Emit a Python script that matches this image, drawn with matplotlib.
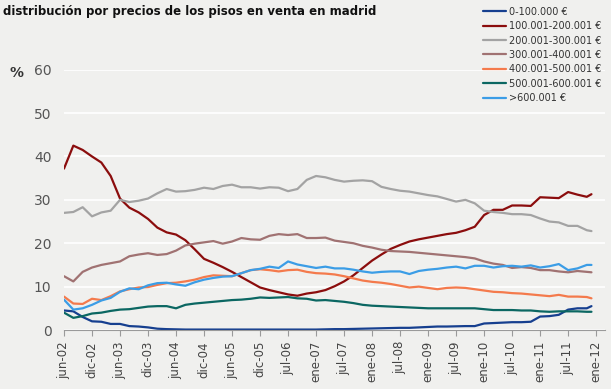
import matplotlib
matplotlib.use("Agg")
import matplotlib.pyplot as plt

# month offsets from jun-02 (every 2 months + last point)
months = list(range(0, 114, 2)) + [113]

tick_pos = list(range(0, 115, 6))
tick_labels = ["jun-02", "dic-02", "jun-03", "dic-03", "jun-04", "dic-04",
               "jun-05", "dic-05", "jul-06", "ene-07", "jul-07", "ene-08",
               "jul-08", "ene-09", "jul-09", "ene-10", "jul-10", "ene-11",
               "jul-11", "ene-12"]

s_0_100 = [4.5, 4.3, 3.0, 2.0, 1.9, 1.4, 1.4, 0.9, 0.8, 0.6, 0.3, 0.2, 0.15,
           0.1, 0.1, 0.1, 0.1, 0.1, 0.1, 0.1, 0.1, 0.1, 0.1, 0.1, 0.1, 0.1,
           0.1, 0.1, 0.15, 0.2, 0.2, 0.25, 0.3, 0.35, 0.4, 0.45, 0.5, 0.5,
           0.6, 0.7, 0.8, 0.8, 0.85, 0.9, 0.9, 1.5, 1.6, 1.7, 1.8, 1.8, 1.9,
           3.1, 3.2, 3.5, 4.7, 5.0, 5.0, 5.5]
s_100_200 = [37.2, 42.5, 41.5, 40.0, 38.6, 35.5, 30.3, 28.2, 27.1, 25.6, 23.6,
             22.5, 22.0, 20.7, 18.6, 16.4, 15.5, 14.5, 13.4, 12.2, 11.0, 9.8,
             9.2, 8.7, 8.2, 7.9, 8.4, 8.7, 9.2, 10.1, 11.2, 12.6, 14.3, 16.0,
             17.4, 18.7, 19.6, 20.4, 20.9, 21.3, 21.7, 22.1, 22.4, 23.0, 23.8,
             26.5, 27.7, 27.7, 28.7, 28.7, 28.6, 30.6, 30.5, 30.4, 31.8, 31.2,
             30.7, 31.3]
s_200_300 = [27.0, 27.2, 28.3, 26.2, 27.1, 27.5, 30.0, 29.5, 29.8, 30.3, 31.5,
             32.5, 31.9, 32.0, 32.3, 32.8, 32.5, 33.2, 33.5, 32.9, 32.9, 32.6,
             32.9, 32.8, 32.0, 32.5, 34.6, 35.5, 35.2, 34.6, 34.2, 34.4, 34.5,
             34.3, 33.0, 32.5, 32.1, 31.9, 31.5, 31.1, 30.8, 30.2, 29.6, 30.0,
             29.2, 27.5, 27.2, 27.0, 26.7, 26.7, 26.5, 25.7, 25.0, 24.8, 24.0,
             24.0, 23.0, 22.8]
s_300_400 = [12.4, 11.2, 13.4, 14.4, 15.0, 15.4, 15.8, 17.0, 17.4, 17.7, 17.3,
             17.5, 18.3, 19.5, 19.9, 20.2, 20.5, 19.9, 20.4, 21.2, 20.9, 20.8,
             21.7, 22.1, 21.9, 22.1, 21.2, 21.2, 21.3, 20.6, 20.3, 20.0, 19.4,
             19.0, 18.5, 18.2, 18.1, 18.0, 17.8, 17.6, 17.4, 17.2, 17.0, 16.8,
             16.5, 15.8, 15.3, 15.0, 14.3, 14.5, 14.3, 13.8, 13.8, 13.5, 13.3,
             13.6, 13.4, 13.3]
s_400_500 = [7.7, 6.1, 6.0, 7.2, 6.9, 7.8, 8.9, 9.4, 9.8, 9.9, 10.4, 10.8,
             10.9, 11.2, 11.6, 12.2, 12.6, 12.5, 12.4, 13.1, 13.8, 14.0, 13.8,
             13.5, 13.8, 13.9, 13.4, 13.1, 13.0, 12.8, 12.4, 11.9, 11.4, 11.1,
             10.9, 10.6, 10.2, 9.8, 10.0, 9.7, 9.4, 9.7, 9.8, 9.7, 9.4, 9.1,
             8.8, 8.7, 8.5, 8.4, 8.2, 8.0, 7.8, 8.1, 7.7, 7.7, 7.6, 7.3]
s_500_600 = [4.0, 2.8, 3.2, 3.8, 4.0, 4.4, 4.7, 4.8, 5.1, 5.4, 5.5, 5.5, 5.0,
             5.8, 6.1, 6.3, 6.5, 6.7, 6.9, 7.0, 7.2, 7.5, 7.4, 7.5, 7.6, 7.3,
             7.2, 6.8, 6.9, 6.7, 6.5, 6.2, 5.8, 5.6, 5.5, 5.4, 5.3, 5.2, 5.1,
             5.0, 5.0, 5.0, 5.0, 5.0, 5.0, 4.8, 4.6, 4.6, 4.6, 4.5, 4.5, 4.3,
             4.2, 4.3, 4.3, 4.3, 4.2, 4.2]
s_600 = [7.0, 4.7, 5.0, 5.8, 6.8, 7.4, 8.8, 9.6, 9.4, 10.3, 10.8, 10.9, 10.5,
         10.2, 11.0, 11.6, 12.0, 12.3, 12.4, 13.1, 13.8, 14.1, 14.6, 14.3,
         15.8, 15.1, 14.7, 14.3, 14.6, 14.2, 14.2, 13.9, 13.5, 13.2, 13.4,
         13.5, 13.5, 12.9, 13.6, 13.9, 14.1, 14.4, 14.6, 14.2, 14.8, 14.8,
         14.4, 14.7, 14.8, 14.6, 14.9, 14.4, 14.7, 15.2, 13.8, 14.2, 15.0,
         15.0]

series = [
    ("0-100.000 €", s_0_100, "#163f8f"),
    ("100.001-200.001 €", s_100_200, "#8b0d0d"),
    ("200.001-300.001 €", s_200_300, "#a3a3a3"),
    ("300.001-400.001 €", s_300_400, "#a07272"),
    ("400.001-500.001 €", s_400_500, "#f47a4c"),
    ("500.001-600.001 €", s_500_600, "#0b6762"),
    (">600.001 €", s_600, "#3b9de6"),
]

bg = "#f0f0ee"
fig = plt.figure(figsize=(6.11, 3.89), dpi=100, facecolor=bg)
ax = fig.add_axes([64 / 611, 59 / 389, (605 - 64) / 611, (330 - 69.7) / 389])
ax.set_facecolor(bg)

for label, vals, col in series:
    ax.plot(months, vals, color=col, lw=1.6, label=label, solid_capstyle="round")

ax.set_xlim(0, 115.9)
ax.set_ylim(0, 60)
ax.set_yticks(range(0, 61, 10))
ax.yaxis.grid(True, color="white", lw=1.2)
ax.set_axisbelow(True)
for sp in ["left", "right", "top"]:
    ax.spines[sp].set_visible(False)
ax.spines["bottom"].set_color("#9a9a9a")
ax.tick_params(axis="y", length=0, pad=9, labelsize=10, labelcolor="#555555")
ax.set_xticks(tick_pos)
ax.set_xticklabels(tick_labels, rotation=90, fontsize=8.5, color="#444444")
ax.tick_params(axis="x", direction="out", length=4, color="#9a9a9a", pad=4)

fig.text(9 / 611, 1 - 73 / 389, "%", fontsize=10, fontweight="bold",
         color="#333333", va="center", ha="left")
fig.text(3 / 611, 1 - 12 / 389, "distribución por precios de los pisos en venta en madrid",
         fontsize=8.5, fontweight="bold", color="#111111", va="center", ha="left")

fig.legend(loc="upper left", bbox_to_anchor=(474 / 611, 1 + 2 / 389),
           frameon=False, fontsize=7, handlelength=2.4, handletextpad=0.3,
           labelspacing=0.45, labelcolor="#333333")

fig.savefig("out.png", dpi=100, facecolor=bg)
